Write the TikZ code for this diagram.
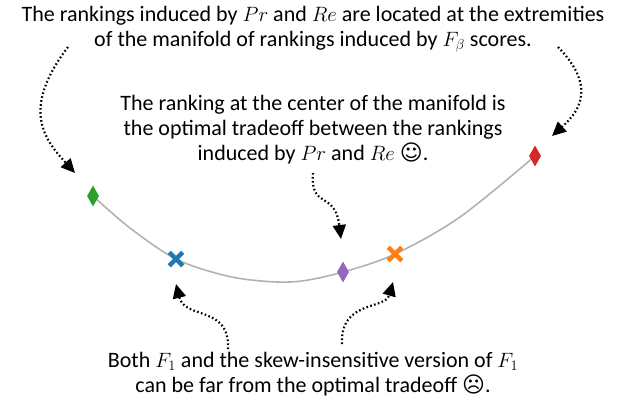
\documentclass[tikz,border=0pt]{standalone}
\usepackage{fontspec}
\setmainfont{Carlito}
\newfontfamily\symfont{DejaVu Sans}
\usetikzlibrary{arrows.meta,shapes.geometric,shapes.misc}
\tikzset{
  txt/.style={align=center, font=\fontsize{22}{25}\selectfont, inner sep=0pt},
  dmark/.style={diamond, fill=#1, inner sep=0pt, minimum width=12pt, minimum height=21pt},
  xmark/.style={cross out, draw=#1, line width=4.5pt, inner sep=0pt, minimum size=9pt},
  curve/.style={draw=black!30, line width=1.6pt},
  callout/.style={line width=2.2pt, dash pattern=on 1.6pt off 2.4pt, -{Triangle[length=14pt,width=13pt]}},
}
\definecolor{tgreen}{HTML}{2CA02C}
\definecolor{tblue}{HTML}{1F77B4}
\definecolor{tpurple}{HTML}{9467BD}
\definecolor{torange}{HTML}{FF7F0E}
\definecolor{tred}{HTML}{D62728}
\begin{document}
\begin{tikzpicture}[x=1pt,y=-1pt]
\useasboundingbox (0,0) rectangle (626,400);
% texts
\node[txt] (top) at (313,29) {The rankings induced by $Pr$ and $Re$ are located at the extremities\\ of the manifold of rankings induced by $F_\beta$ scores.};
\node[txt] (mid) at (313,130) {The ranking at the center of the manifold is\\ the optimal tradeoff between the rankings\\ induced by $Pr$ and $Re$ {\symfont\char"263A}.};
\node[txt] (bot) at (313,374) {Both $F_1$ and the skew-insensitive version of $F_1$\\ can be far from the optimal tradeoff {\symfont\char"2639}.};
% curve
\draw[curve] plot[smooth, tension=0.55] coordinates {(93,196) (130,228) (176,259) (225,275.5) (265,281.3) (300,281.2) (343,272) (395,254) (460,217) (535,156)};
% markers
\node[dmark=tgreen] (g) at (93,196) {};
\node[xmark=tblue] (b) at (176,259) {};
\node[dmark=tpurple] (p) at (343,272) {};
\node[xmark=torange] (o) at (395,254) {};
\node[dmark=tred] (r) at (535,156) {};
% arrow anchors
\coordinate (s1) at (68,47);
\coordinate (e1) at (75,173);
\coordinate (s2) at (558,47);
\coordinate (e2) at (552,136);
\coordinate (s3) at (313,173);
\coordinate (e3) at (341,239);
\coordinate (s4) at (228,349);
\coordinate (e4) at (176,284);
\coordinate (s5) at (342,344);
\coordinate (e5) at (393,282);
% arrows
\draw[callout] (s1) .. controls (20,110) and (45,140) .. (e1);
\draw[callout] (s2) .. controls (600,90) and (575,115) .. (e2);
\draw[callout] (s3) .. controls (310,210) and (335,190) .. (e3);
\draw[callout] (s4) .. controls (230,305) and (185,320) .. (e4);
\draw[callout] (s5) .. controls (340,300) and (385,310) .. (e5);
\end{tikzpicture}
\end{document}
